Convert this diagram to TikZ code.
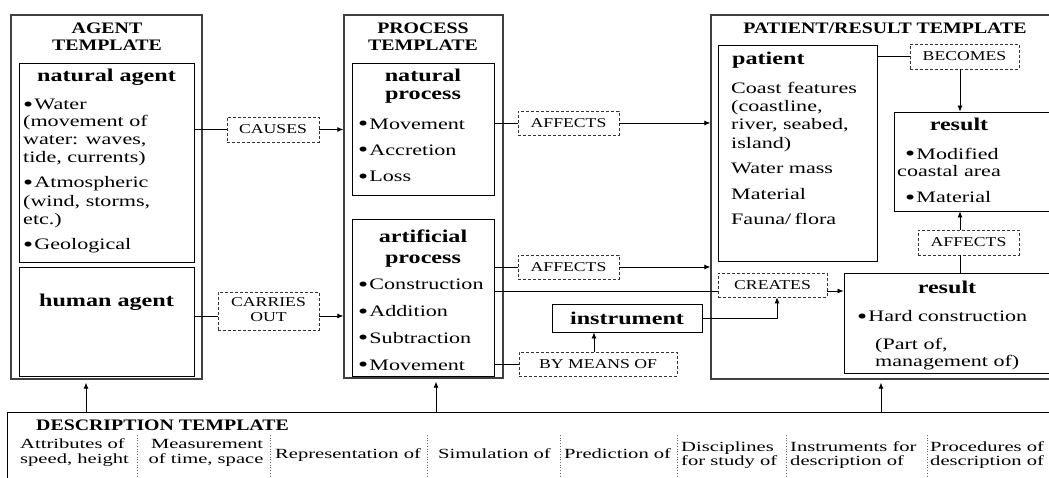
\documentclass[tikz,border=0pt]{standalone}
\usepackage{fontspec}
\setmainfont{Liberation Serif}
\usepackage{graphicx}
\usetikzlibrary{arrows.meta}
\def\hs{1.38}
\newcommand\sx[1]{\scalebox{\hs}[1]{#1}}
\newcommand\bul{\raisebox{-0.1em}{\fontsize{21}{21}\selectfont\textbullet}\hspace{0.05em}}
\newcounter{tn}
\newcommand\tl[4][]{\stepcounter{tn}\node[tx,#1] (t\arabic{tn}) at (#2,#3) {\sx{#4}};}
\newcommand\rbox[7]{\node[#1, inner sep=0, minimum width={#5-#3}, minimum height={#6-#4}] (#2) at ({(#3+#5)/2},{(#4+#6)/2}) {#7};}
\tikzset{
  tx/.style={inner sep=0, anchor=base west, font=\def\hs{1.38}\fontsize{16}{18}\selectfont},
  txc/.style={tx, anchor=base},
  hd/.style={font=\def\hs{1.34}\fontsize{18}{20}\selectfont\bfseries},
  tt/.style={font=\def\hs{1.24}\fontsize{16}{18}\selectfont\bfseries},
  ds/.style={font=\def\hs{1.47}\fontsize{14}{16}\selectfont},
  outer/.style={draw=black!75, line width=1.4pt},
  inner/.style={draw=black, line width=0.9pt},
  ibox/.style={inner, font=\def\hs{1.34}\fontsize{18}{20}\selectfont\bfseries},
  lab/.style={draw=black!80, dashed, dash pattern=on 3pt off 2pt, line width=0.7pt, font=\def\hs{1.31}\fontsize{13.5}{15}\selectfont},
  dbox/.style={draw=black, line width=0.9pt},
  conn/.style={draw=black, line width=0.8pt},
  arr/.style={conn, -{Latex[length=6pt,width=5pt]}},
  sep/.style={draw=black!60, dotted, line width=0.7pt}
}
\begin{document}
\begin{tikzpicture}[x=1pt,y=-1pt]
\useasboundingbox (0,0) rectangle (1049,478);
% outer templates
\rbox{outer}{ag}{11}{15}{202}{379}{}
\rbox{outer}{pr}{344}{15}{503}{378}{}
\rbox{outer}{pt}{711}{15}{1070}{379}{}
\rbox{dbox}{desc}{7}{412}{1070}{500}{}
% inner boxes
\rbox{inner}{na}{19}{63}{194}{262}{}
\rbox{inner}{ha}{19}{267}{194}{376}{}
\rbox{inner}{np}{352}{63}{494}{195}{}
\rbox{inner}{ap}{352}{219}{494}{376}{}
\rbox{inner}{pat}{718}{45}{877}{261}{}
\rbox{inner}{r1}{894}{112}{1070}{211}{}
\rbox{inner}{r2}{844}{273}{1070}{373}{}
\rbox{ibox}{inst}{552}{304}{702}{332}{\sx{instrument}}
% dashed labels
\rbox{lab}{causes}{227}{117}{319}{142}{\sx{CAUSES}}
\rbox{lab}{carries}{218}{292}{319}{330}{\sx{\begin{tabular}{@{}c@{}}CARRIES\\OUT\end{tabular}}}
\rbox{lab}{aff1}{518}{111}{619}{135}{\sx{AFFECTS}}
\rbox{lab}{aff2}{518}{255}{619}{279}{\sx{AFFECTS}}
\rbox{lab}{bmo}{519}{352}{677}{376}{\sx{BY MEANS OF}}
\rbox{lab}{creates}{718}{273}{827}{297}{\sx{CREATES}}
\rbox{lab}{becomes}{910}{44}{1019}{69}{\sx{BECOMES}}
\rbox{lab}{aff3}{918}{230}{1019}{255}{\sx{AFFECTS}}
% agent texts
\tl[txc,tt]{107}{33.3}{AGENT}
\tl[txc,tt]{107}{51}{TEMPLATE}
\tl[txc,hd]{106.5}{81.7}{natural agent}
\tl{23}{110}{\bul Water}
\tl{23}{126.7}{(movement of}
\tl{23}{145}{water: waves,}
\tl{23}{163}{tide, currents)}
\tl{23}{188}{\bul Atmospheric}
\tl{23}{206.7}{(wind, storms,}
\tl{23}{225}{etc.)}
\tl{23}{250}{\bul Geological}
\tl[txc,hd]{106.5}{306.7}{human agent}
% process texts
\tl[txc,tt]{423}{33.3}{PROCESS}
\tl[txc,tt]{423}{51}{TEMPLATE}
\tl[txc,hd]{423}{81.7}{natural}
\tl[txc,hd]{423}{100}{process}
\tl{358}{129.3}{\bul Movement}
\tl{358}{155.3}{\bul Accretion}
\tl{358}{182}{\bul Loss}
\tl[txc,hd]{423}{242.7}{artificial}
\tl[txc,hd]{423}{263.3}{process}
\tl{358}{290}{\bul Construction}
\tl{358}{316.7}{\bul Addition}
\tl{358}{343.3}{\bul Subtraction}
\tl{358}{370}{\bul Movement}
% patient / result texts
\tl[txc,tt]{885}{33.3}{PATIENT/RESULT TEMPLATE}
\tl[hd]{732}{65}{patient}
\tl{731}{93.3}{Coast features}
\tl{731}{111.7}{(coastline,}
\tl{731}{130}{river, seabed,}
\tl{731}{148.3}{island)}
\tl{731}{173.3}{Water mass}
\tl{731}{199.3}{Material}
\tl{731}{225}{Fauna/\hspace{0.15em}flora}
\tl[txc,hd]{959}{130.7}{result}
\tl{905}{159.3}{\bul Modified}
\tl{897}{176.7}{coastal area}
\tl{905}{202.7}{\bul Material}
\tl[txc,hd]{947}{294}{result}
\tl{857}{321.7}{\bul Hard construction}
\tl{875}{349.3}{(Part of,}
\tl{875}{366.7}{management of)}
% description
\tl[tt]{36}{430.5}{DESCRIPTION TEMPLATE}
\tl[ds]{20}{448.3}{Attributes of}
\tl[ds]{20}{463.3}{speed, height}
\tl[txc,ds]{207}{448.3}{Measurement}
\tl[txc,ds]{206}{463.3}{of time, space}
\tl[ds]{275}{458}{Representation of}
\tl[ds]{438}{458}{Simulation of}
\tl[ds]{564}{458}{Prediction of}
\tl[ds]{681}{451.7}{Disciplines}
\tl[ds]{681}{465}{for study of}
\tl[ds]{790}{451.7}{Instruments for}
\tl[ds]{790}{465}{description of}
\tl[ds]{930}{451.7}{Procedures of}
\tl[ds]{930}{465}{description of}
\foreach \sxp in {137,270,427,560,677,786,927}{\draw[sep] (\sxp,435) -- (\sxp,480);}
% connectors
\coordinate (y316) at (0,316);
\coordinate (y291) at (0,291);
\coordinate (x777) at (777,0);
\coordinate (x594) at (594,0);
\coordinate (x960) at (960,0);
\coordinate (x86) at (86,0);
\coordinate (x436) at (436,0);
\coordinate (x881) at (881,0);
\draw[conn] (causes.west -| na.east) -- (causes.west);
\draw[arr] (causes.east) -- (causes.east -| pr.west);
\draw[conn] (y316 -| ha.east) -- (y316 -| carries.west);
\draw[arr] (y316 -| carries.east) -- (y316 -| pr.west);
\draw[conn] (aff1.west -| np.east) -- (aff1.west);
\draw[arr] (aff1.east) -- (aff1.east -| pt.west);
\draw[conn] (aff2.west -| ap.east) -- (aff2.west);
\draw[arr] (aff2.east) -- (aff2.east -| pt.west);
\draw[conn] (y291 -| ap.east) -- (y291 -| creates.west);
\draw[arr] (y291 -| creates.east) -- (y291 -| r2.west);
\draw[arr] (inst.east) -| (x777 |- creates.south);
\draw[conn] (bmo.west -| ap.east) -- (bmo.west);
\draw[arr] (x594 |- bmo.north) -- (x594 |- inst.south);
\draw[conn] (becomes.west -| pat.east) -- (becomes.west);
\draw[arr] (x960 |- becomes.south) -- (x960 |- r1.north);
\draw[conn] (x960 |- r2.north) -- (x960 |- aff3.south);
\draw[arr] (x960 |- aff3.north) -- (x960 |- r1.south);
\draw[arr] (x86 |- desc.north) -- ([yshift=-3pt]x86 |- ag.south);
\draw[arr] (x436 |- desc.north) -- ([yshift=-3pt]x436 |- pr.south);
\draw[arr] (x881 |- desc.north) -- ([yshift=-3pt]x881 |- pt.south);
\end{tikzpicture}
\end{document}
